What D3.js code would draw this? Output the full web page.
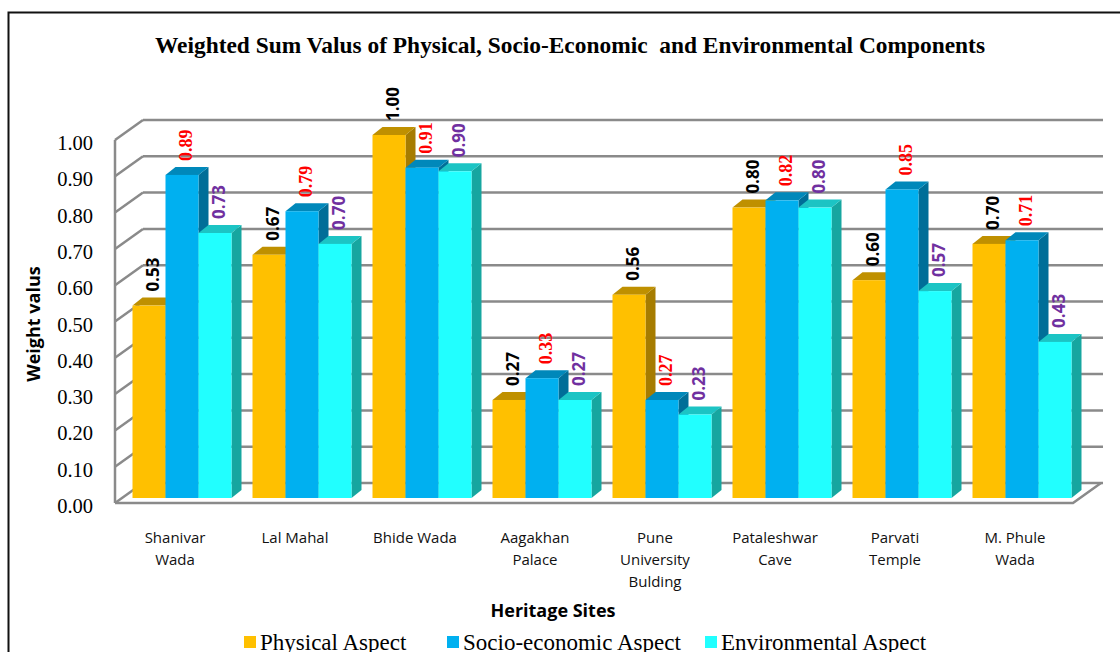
<!DOCTYPE html>
<html>
<head>
<meta charset="utf-8">
<script src="https://cdn.jsdelivr.net/npm/d3@7"></script>
<style>
  html, body { margin: 0; padding: 0; background: #fff; }
  svg { display: block; }
</style>
</head>
<body>
<div id="chart"></div>
<script>
const sites = ['Shanivar Wada', 'Lal Mahal', 'Bhide Wada', 'Aagakhan Palace',
  'Pune University Bulding', 'Pataleshwar Cave', 'Parvati Temple', 'M. Phule Wada'];
const siteLines = [['Shanivar', 'Wada'], ['Lal Mahal'], ['Bhide Wada'], ['Aagakhan', 'Palace'],
  ['Pune', 'University', 'Bulding'], ['Pataleshwar', 'Cave'], ['Parvati', 'Temple'], ['M. Phule', 'Wada']];
const seriesNames = ['Physical Aspect', 'Socio-economic Aspect', 'Environmental Aspect'];
const physical = [0.53, 0.67, 1.00, 0.27, 0.56, 0.80, 0.60, 0.70];
const socioEconomic = [0.89, 0.79, 0.91, 0.33, 0.27, 0.82, 0.85, 0.71];
const environmental = [0.73, 0.70, 0.90, 0.27, 0.23, 0.80, 0.57, 0.43];
const yTicks = [0, 0.1, 0.2, 0.3, 0.4, 0.5, 0.6, 0.7, 0.8, 0.9, 1.0];

const W = 1120, H = 652;
const series = [
  { name: seriesNames[0], values: physical, front: '#FFC000', top: '#BF9000', side: '#A67C00',
    label: '#000000', font: '"Open Sans", sans-serif', size: 17 },
  { name: seriesNames[1], values: socioEconomic, front: '#00B0F0', top: '#0088BA', side: '#006E98',
    label: '#FF0000', font: '"Liberation Serif", "Times New Roman", serif', size: 18 },
  { name: seriesNames[2], values: environmental, front: '#21FFFF', top: '#1CC4C4', side: '#16A6A0',
    label: '#7030A0', font: '"Open Sans", sans-serif', size: 17 }
];

const svg = d3.select('#chart').append('svg')
  .attr('width', W).attr('height', H);

// outer frame
svg.append('rect')
  .attr('x', 8.5).attr('y', 12.5).attr('width', 1200).attr('height', 700)
  .attr('fill', 'none').attr('stroke', '#111').attr('stroke-width', 2);

// title (double space kept as in the original)
svg.append('text')
  .attr('x', 570).attr('y', 53)
  .attr('text-anchor', 'middle')
  .style('white-space', 'pre')
  .style('font-family', '"Liberation Serif", "Times New Roman", serif')
  .style('font-weight', 'bold').style('font-size', '23.4px')
  .text('Weighted Sum Valus of Physical, Socio-Economic  and Environmental Components');

// 3D geometry
const depth = { dx: 28, dy: -20 };
const barOff = { dx: 7, dy: -5 };
const barDepth = { dx: 10, dy: -8 };

const x = d3.scaleBand().domain(sites).range([115, 1075]).paddingInner(0.175).paddingOuter(0.0875);
const xs = d3.scaleBand().domain(seriesNames).range([0, x.bandwidth()]);
const y = d3.scaleLinear().domain([0, 1]).range([503, 140]);

const gridColor = '#8a8a8a';
const grid = svg.append('g');

// back wall gridlines
grid.selectAll('line.back').data(yTicks).enter().append('line')
  .attr('x1', 115 + depth.dx).attr('x2', 1075 + depth.dx)
  .attr('y1', d => y(d) + depth.dy).attr('y2', d => y(d) + depth.dy)
  .attr('stroke', gridColor).attr('stroke-width', 2.5);

// left wall diagonals
grid.selectAll('line.side').data(yTicks).enter().append('line')
  .attr('x1', 115).attr('x2', 115 + depth.dx)
  .attr('y1', d => y(d)).attr('y2', d => y(d) + depth.dy)
  .attr('stroke', gridColor).attr('stroke-width', 2.5);

// left front edge
grid.append('line')
  .attr('x1', 115).attr('x2', 115).attr('y1', y(1)).attr('y2', y(0))
  .attr('stroke', gridColor).attr('stroke-width', 2.5);

// floor front edge and right side
grid.append('path')
  .attr('d', `M115,${y(0)}L1073,${y(0)}L${1073 + depth.dx},${y(0) + depth.dy}`)
  .attr('fill', 'none').attr('stroke', gridColor).attr('stroke-width', 2.5);

// y axis labels
const yAxis = svg.append('g')
  .attr('transform', 'translate(93,3)')
  .call(d3.axisLeft(y).tickValues(yTicks).tickSize(0).tickPadding(0).tickFormat(d3.format('.2f')));
yAxis.select('.domain').remove();
yAxis.selectAll('text')
  .style('font-family', '"Liberation Serif", "Times New Roman", serif')
  .style('font-size', '20.5px').attr('fill', '#000');

svg.append('text')
  .attr('transform', 'translate(40,324) rotate(-90)')
  .attr('text-anchor', 'middle')
  .style('font-family', '"Open Sans", sans-serif')
  .style('font-weight', 'bold').style('font-size', '18px')
  .text('Weight valus');

// bars: side, top, then front face, left to right
const bars = svg.append('g');
sites.forEach((site, i) => {
  series.forEach(s => {
    const v = s.values[i];
    const x0 = x(site) + barOff.dx + xs(s.name);
    const w = xs.bandwidth();
    const yb = y(0) + barOff.dy;
    const yt = y(v) + barOff.dy;
    const g = bars.append('g');
    g.append('path')
      .attr('d', `M${x0 + w},${yt}L${x0 + w + barDepth.dx},${yt + barDepth.dy}L${x0 + w + barDepth.dx},${yb + barDepth.dy}L${x0 + w},${yb}Z`)
      .attr('fill', s.side);
    g.append('path')
      .attr('d', `M${x0},${yt}L${x0 + barDepth.dx},${yt + barDepth.dy}L${x0 + w + barDepth.dx},${yt + barDepth.dy}L${x0 + w},${yt}Z`)
      .attr('fill', s.top);
    g.append('rect')
      .attr('x', x0).attr('y', yt).attr('width', w).attr('height', yb - yt)
      .attr('fill', s.front);
  });
});

// value labels
const labels = svg.append('g');
sites.forEach((site, i) => {
  series.forEach(s => {
    const v = s.values[i];
    const cx = x(site) + barOff.dx + xs(s.name) + xs.bandwidth() / 2 + 4;
    const yt = y(v) + barOff.dy;
    labels.append('text')
      .attr('transform', `translate(${cx},${yt - 14}) rotate(-90)`)
      .attr('dy', '0.35em')
      .attr('fill', s.label)
      .style('font-family', s.font)
      .style('font-weight', 'bold').style('font-size', s.size + 'px')
      .text(v.toFixed(2));
  });
});

// category labels
const catG = svg.append('g');
sites.forEach((site, i) => {
  const t = catG.append('text')
    .attr('text-anchor', 'middle')
    .style('font-family', '"Open Sans", sans-serif')
    .style('font-size', '15px').attr('fill', '#111');
  siteLines[i].forEach((ln, k) => {
    t.append('tspan')
      .attr('x', x(site) + x.bandwidth() / 2)
      .attr('y', 543 + k * 22)
      .text(ln);
  });
});

svg.append('text')
  .attr('x', 553).attr('y', 617)
  .attr('text-anchor', 'middle')
  .style('font-family', '"Open Sans", sans-serif')
  .style('font-weight', 'bold').style('font-size', '18px')
  .text('Heritage Sites');

// legend
const legendX = [244, 447, 705];
const legend = svg.append('g');
series.forEach((s, k) => {
  legend.append('rect')
    .attr('x', legendX[k]).attr('y', 636).attr('width', 12).attr('height', 12)
    .attr('fill', s.front);
  legend.append('text')
    .attr('x', legendX[k] + 16).attr('y', 650)
    .style('font-family', '"Liberation Serif", "Times New Roman", serif')
    .style('font-size', '23px')
    .text(s.name);
});
</script>
</body>
</html>
